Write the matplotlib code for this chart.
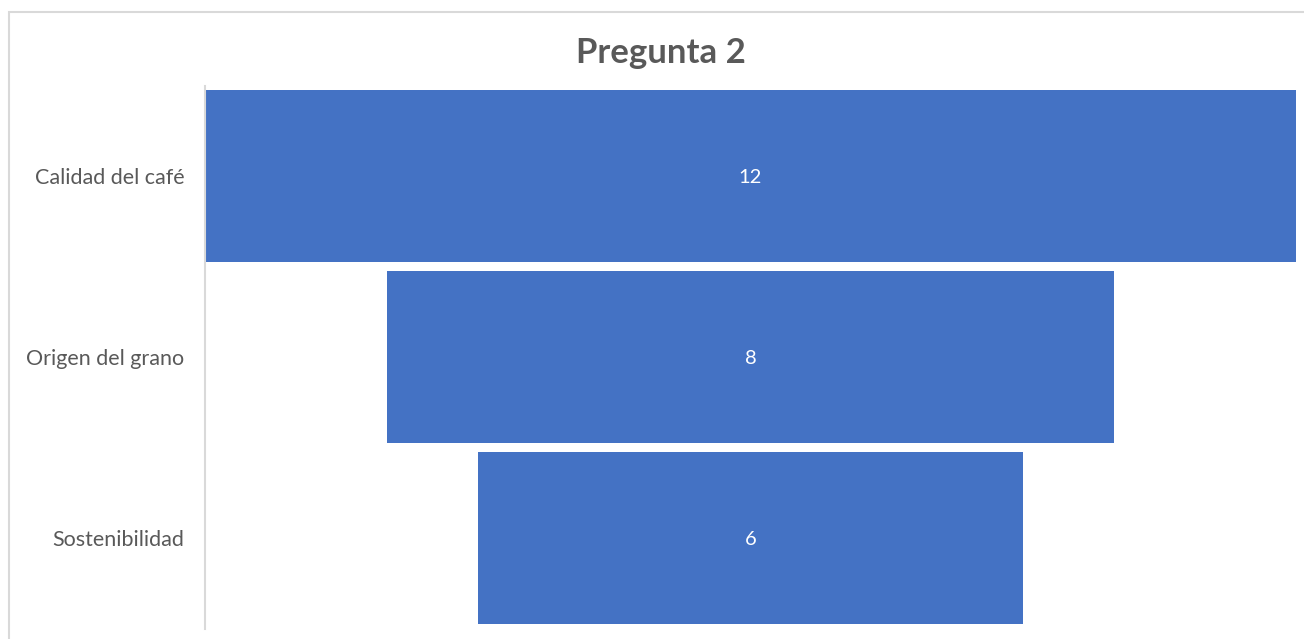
import matplotlib.pyplot as plt
from matplotlib.patches import Rectangle

categories = ['Calidad del café', 'Origen del grano', 'Sostenibilidad']
values = [12, 8, 6]
title = 'Pregunta 2'

W, H = 1304, 639
fig = plt.figure(figsize=(W / 100, H / 100), dpi=100)
plt.rcParams['font.family'] = ['Lato', 'DejaVu Sans']

# chart border (right and bottom edges fall outside the image)
fig.patches.append(Rectangle((8.5 / W, -0.1), 1, 1.1 - 12.5 / H, transform=fig.transFigure,
                             fill=False, edgecolor='#d9d9d9', linewidth=1.5))

ax = fig.add_axes([205 / W, (H - 628.5) / H, (1296 - 205) / W, (628.5 - 85.5) / H])

vmax = max(values)
lefts = [(vmax - v) / 2 for v in values]
ax.barh(range(len(values)), values, left=lefts, height=0.945, color='#4472c4')

for i, (v, l) in enumerate(zip(values, lefts)):
    ax.text(l + v / 2, i + 0.01, str(v), ha='center', va='center', color='white', fontsize=14.5)

ax.set_xlim(0, vmax)
ax.set_ylim(len(values) - 0.5, -0.5)
ax.set_yticks(range(len(values)))
ax.set_yticklabels(categories, fontsize=15.5, color='#595959')
ax.tick_params(axis='y', length=0, pad=15)
ax.set_xticks([])
for s in ['top', 'right', 'bottom']:
    ax.spines[s].set_visible(False)
ax.spines['left'].set_color('#d9d9d9')
ax.spines['left'].set_linewidth(1.5)

fig.text(661 / W, 1 - 53 / H, title, ha='center', va='center', fontsize=25,
         fontweight='bold', color='#595959')

fig.savefig('out.png', dpi=100)
